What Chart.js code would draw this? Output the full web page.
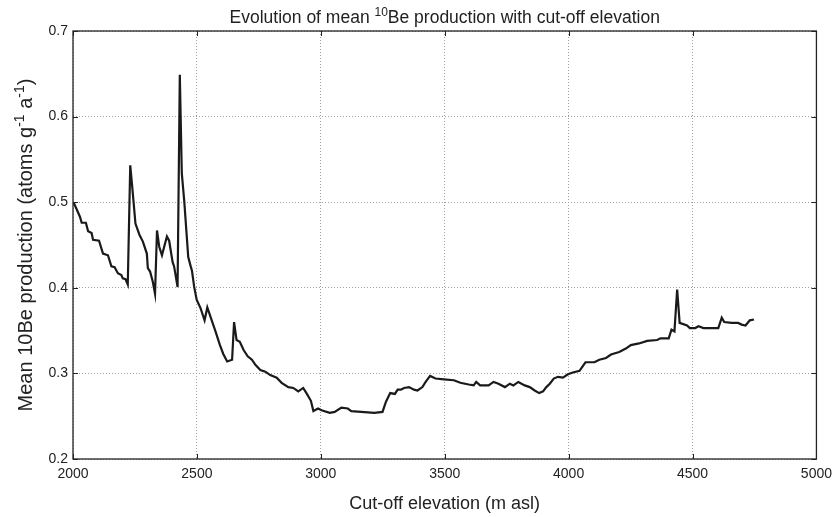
<!DOCTYPE html>
<html>
<head>
<meta charset="utf-8">
<script src="https://cdn.jsdelivr.net/npm/chart.js@4/dist/chart.umd.min.js"></script>
<style>
  html, body { margin: 0; padding: 0; background: #fff; }
  #wrap { width: 839px; height: 517px; }
</style>
</head>
<body>
<div id="wrap"><canvas id="chart" width="839" height="517"></canvas></div>
<script>
// cut-off elevation (m asl)
const elevations = [
  2000, 2005, 2028, 2035, 2052, 2061, 2075, 2081, 2105, 2121, 2141, 2155, 2168, 2181, 2195, 2201, 2212, 2221,
  2231, 2239, 2252, 2268, 2282, 2298, 2302, 2311, 2322, 2331,
  2339, 2348, 2359, 2368, 2379, 2388, 2402, 2408, 2422,
  2431, 2439, 2449, 2465, 2475, 2480, 2489, 2499, 2515, 2531, 2542, 2555, 2575, 2593, 2606, 2622, 2642,
  2650, 2660, 2673, 2689, 2705, 2722, 2736, 2756, 2776, 2796, 2822, 2842, 2869, 2889, 2909, 2929, 2942,
  2960, 2970, 2989, 3003, 3036, 3056, 3083, 3109, 3123, 3163, 3216, 3249, 3263, 3280, 3299, 3310, 3323,
  3336, 3356, 3376, 3390, 3410, 3423, 3441, 3463, 3497, 3537, 3563, 3597, 3617, 3627, 3643, 3677, 3697,
  3717, 3743, 3763, 3777, 3797, 3823, 3843, 3863, 3881, 3897, 3910, 3924, 3940, 3957, 3977, 3997, 4017,
  4044, 4068, 4104, 4124, 4151, 4171, 4204, 4231, 4251, 4284, 4317, 4357, 4371, 4404, 4415, 4427, 4438,
  4448, 4478, 4489, 4511, 4524, 4544, 4604, 4618, 4628, 4658, 4684, 4698, 4714, 4731, 4748
];

// mean 10Be production (atoms g-1 a-1)
const production = [
  0.500, 0.498, 0.483, 0.476, 0.476, 0.466, 0.464, 0.456, 0.455, 0.440, 0.438, 0.425, 0.424, 0.417, 0.415, 0.411, 0.410, 0.404,
  0.543, 0.518, 0.475, 0.462, 0.454, 0.440, 0.423, 0.419, 0.407, 0.393,
  0.467, 0.448, 0.438, 0.448, 0.460, 0.455, 0.430, 0.425, 0.401,
  0.649, 0.534, 0.501, 0.436, 0.425, 0.420, 0.401, 0.386, 0.376, 0.362, 0.377, 0.366, 0.349, 0.333, 0.323, 0.314, 0.316,
  0.360, 0.339, 0.337, 0.327, 0.320, 0.316, 0.310, 0.304, 0.302, 0.298, 0.295, 0.289, 0.284, 0.283, 0.279, 0.283, 0.277,
  0.268, 0.256, 0.259, 0.257, 0.254, 0.255, 0.260, 0.259, 0.256, 0.255, 0.254, 0.255, 0.267, 0.277, 0.276, 0.281, 0.281,
  0.283, 0.284, 0.281, 0.280, 0.284, 0.290, 0.297, 0.294, 0.293, 0.292, 0.289, 0.287, 0.286, 0.290, 0.286, 0.286, 0.290,
  0.288, 0.284, 0.288, 0.286, 0.290, 0.286, 0.284, 0.280, 0.277, 0.279, 0.284, 0.288, 0.294, 0.296, 0.295, 0.299, 0.301,
  0.303, 0.313, 0.313, 0.316, 0.318, 0.322, 0.325, 0.329, 0.333, 0.335, 0.338, 0.339, 0.341, 0.341, 0.351, 0.349, 0.398,
  0.359, 0.356, 0.353, 0.353, 0.355, 0.353, 0.353, 0.365, 0.360, 0.359, 0.359, 0.357, 0.356, 0.362, 0.363
];

const xTicks = [2000, 2500, 3000, 3500, 4000, 4500, 5000];
const yTicks = [0.2, 0.3, 0.4, 0.5, 0.6, 0.7];

const FONT = "'Liberation Sans', Arial, sans-serif";
const INK = '#222222';

// draws a run of text pieces, some raised as superscripts
function drawRich(ctx, parts, size) {
  const widths = parts.map(p => {
    ctx.font = `${p.sup ? Math.round(size * 0.7) : size}px ${FONT}`;
    return ctx.measureText(p.t).width;
  });
  const total = widths.reduce((a, b) => a + b, 0);
  let x = -total / 2;
  parts.forEach((p, i) => {
    ctx.font = `${p.sup ? Math.round(size * 0.7) : size}px ${FONT}`;
    ctx.fillText(p.t, x, p.sup ? -size * 0.4 : 0);
    x += widths[i];
  });
}

const framePlugin = {
  id: 'frame',
  afterDraw(chart) {
    const { ctx, chartArea: a, scales } = chart;
    ctx.save();
    ctx.strokeStyle = INK;
    ctx.lineWidth = 1;
    // inward tick marks on all four sides
    ctx.beginPath();
    xTicks.forEach(v => {
      const px = Math.round(scales.x.getPixelForValue(v)) + 0.5;
      ctx.moveTo(px, a.bottom); ctx.lineTo(px, a.bottom - 5);
      ctx.moveTo(px, a.top); ctx.lineTo(px, a.top + 5);
    });
    yTicks.forEach(v => {
      const py = Math.round(scales.y.getPixelForValue(v)) + 0.5;
      ctx.moveTo(a.left, py); ctx.lineTo(a.left + 5, py);
      ctx.moveTo(a.right, py); ctx.lineTo(a.right - 5, py);
    });
    ctx.stroke();
    ctx.lineWidth = 1.3;
    ctx.strokeRect(a.left, a.top, a.right - a.left, a.bottom - a.top);

    // titles
    ctx.fillStyle = INK;
    ctx.textBaseline = 'alphabetic';
    ctx.textAlign = 'left';
    ctx.save();
    ctx.translate((a.left + a.right) / 2, 23);
    drawRich(ctx, [
      { t: 'Evolution of mean ' },
      { t: '10', sup: true },
      { t: 'Be production with cut-off elevation' }
    ], 17.5);
    ctx.restore();

    ctx.save();
    ctx.translate((a.left + a.right) / 2, 509);
    drawRich(ctx, [{ t: 'Cut-off elevation (m asl)' }], 18);
    ctx.restore();

    ctx.save();
    ctx.translate(32, (a.top + a.bottom) / 2);
    ctx.rotate(-Math.PI / 2);
    drawRich(ctx, [
      { t: 'Mean 10Be production (atoms g' },
      { t: '-1', sup: true },
      { t: ' a' },
      { t: '-1', sup: true },
      { t: ')' }
    ], 20);
    ctx.restore();
    ctx.restore();
  }
};

new Chart(document.getElementById('chart'), {
  type: 'line',
  data: {
    datasets: [{
      data: elevations.map((e, i) => ({ x: e, y: production[i] })),
      borderColor: '#1a1a1a',
      borderWidth: 2.2,
      pointRadius: 0,
      tension: 0,
      fill: false
    }]
  },
  options: {
    responsive: false,
    animation: false,
    layout: { padding: { top: 31, right: 17, bottom: 0, left: 0 } },
    plugins: { legend: { display: false }, tooltip: { enabled: false } },
    scales: {
      x: {
        type: 'linear',
        min: 2000,
        max: 5000,
        afterBuildTicks: s => { s.ticks = xTicks.map(v => ({ value: v })); },
        afterFit: s => { s.height = 58; },
        ticks: {
          color: INK,
          padding: 7,
          maxRotation: 0,
          font: { family: FONT, size: 14 },
          callback: v => String(v)
        },
        grid: { color: '#a0a0a0', lineWidth: 1, drawTicks: false },
        border: { display: false, dash: [1, 2] }
      },
      y: {
        min: 0.2,
        max: 0.7,
        afterBuildTicks: s => { s.ticks = yTicks.map(v => ({ value: v })); },
        afterFit: s => { s.width = 73; },
        ticks: {
          color: INK,
          padding: 5,
          font: { family: FONT, size: 14 },
          callback: v => Number(v).toFixed(1)
        },
        grid: { color: '#a0a0a0', lineWidth: 1, drawTicks: false },
        border: { display: false, dash: [1, 2] }
      }
    }
  },
  plugins: [framePlugin]
});
</script>
</body>
</html>
